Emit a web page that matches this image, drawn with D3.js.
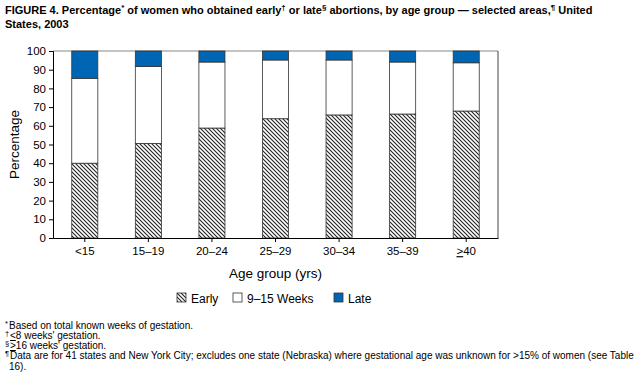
<!DOCTYPE html>
<html><head><meta charset="utf-8">
<script src="https://cdn.jsdelivr.net/npm/d3@7"></script>
<style>body{margin:0;background:#fff}svg{display:block;font-family:"Liberation Sans",Arial,sans-serif}</style>
</head><body>
<script>
const categories = ["<15","15–19","20–24","25–29","30–34","35–39","≥40"];
const early = [40, 50.6, 58.8, 63.8, 65.8, 66.3, 67.9];
const mid = [45.4, 41.2, 35.3, 31.4, 29.4, 27.8, 25.8];
const late = [14.6, 8.2, 5.9, 4.8, 4.8, 5.9, 6.3];
const yTicks = [0,10,20,30,40,50,60,70,80,90,100];
const seriesNames = ["Early","9–15 Weeks","Late"];

const W=640,H=381;
const svg=d3.select("body").append("svg").attr("width",W).attr("height",H);
const defs=svg.append("defs");
const pat=defs.append("pattern").attr("id","hatch").attr("patternUnits","userSpaceOnUse").attr("width",4).attr("height",4);
pat.append("rect").attr("width",4).attr("height",4).attr("fill","#fff");
pat.append("path").attr("d","M-1,-1 L5,5 M-1,3 L1,5 M3,-1 L5,1").attr("stroke","#222").attr("stroke-width",1.1);

const m={l:53,r:498,t:51,b:238};
const x=d3.scaleBand().domain(categories).range([m.l,m.r]).paddingInner(0.59).paddingOuter(0.295);
const y=d3.scaleLinear().domain([0,100]).range([m.b,m.t]);

// title
const title=svg.append("text").attr("x",5).attr("y",14).attr("font-weight","bold").attr("font-size",11).attr("fill","#000");
const parts=[["FIGURE 4. Percentage",0],["*",1],[" of women who obtained early",0],["†",1],[" or late",0],["§",1],[" abortions, by age group — selected areas,",0],["¶",1],[" United",0]];
parts.forEach(p=>{
  if(p[1]) title.append("tspan").attr("font-size",8).attr("baseline-shift","super").text(p[0]);
  else title.append("tspan").text(p[0]);
});
svg.append("text").attr("font-weight","bold").attr("font-size",11).attr("x",5).attr("y",28).text("States, 2003");

// frame
svg.append("line").attr("x1",m.l).attr("x2",m.r).attr("y1",m.t).attr("y2",m.t).attr("stroke","#888").attr("stroke-width",1);
svg.append("line").attr("x1",m.r).attr("x2",m.r).attr("y1",m.t).attr("y2",m.b).attr("stroke","#444").attr("stroke-width",1);

const data=categories.map((c,i)=>({c,vals:[early[i],mid[i],late[i]]}));
const fills=["url(#hatch)","#fff","#0066b3"];
data.forEach(d=>{
  let acc=0;
  d.vals.forEach((v,k)=>{
    svg.append("rect").attr("x",x(d.c)).attr("width",x.bandwidth())
      .attr("y",y(acc+v)).attr("height",y(acc)-y(acc+v))
      .attr("fill",fills[k]).attr("stroke","#333").attr("stroke-width",0.8);
    acc+=v;
  });
});

// axes
const ya=svg.append("g").attr("transform",`translate(${m.l},0)`).call(d3.axisLeft(y).tickValues(yTicks).tickSize(4).tickPadding(3));
ya.selectAll("text").attr("font-size",11.5).attr("fill","#000").attr("font-family","Liberation Sans,Arial,sans-serif");
ya.select(".domain").attr("stroke","#000");
ya.selectAll(".tick line").attr("stroke","#000");
const xa=svg.append("g").attr("transform",`translate(0,${m.b})`).call(d3.axisBottom(x).tickSize(4).tickPadding(5).tickSizeOuter(0));
xa.select(".domain").attr("stroke","#000");
xa.selectAll(".tick line").attr("stroke","#000");
xa.selectAll("text").attr("font-size",11.5).attr("fill","#000").attr("font-family","Liberation Sans,Arial,sans-serif")
  .each(function(d){ if(d==="≥40"){ const t=d3.select(this); t.text(""); t.append("tspan").attr("text-decoration","underline").text(">"); t.append("tspan").text("40"); }});

svg.append("text").attr("transform",`translate(19,${(m.t+m.b)/2}) rotate(-90)`).attr("text-anchor","middle").attr("font-size",13.5).text("Percentage");
svg.append("text").attr("x",(m.l+m.r)/2).attr("y",278).attr("text-anchor","middle").attr("font-size",13.5).text("Age group (yrs)");

// legend
const legX=[177,233,334];
seriesNames.forEach((n,k)=>{
  svg.append("rect").attr("x",legX[k]).attr("y",293).attr("width",9).attr("height",9).attr("fill",fills[k]).attr("stroke","#333").attr("stroke-width",0.8);
  svg.append("text").attr("x",legX[k]+14).attr("y",303).attr("font-size",12).text(n);
});

// footnotes
const fn=svg.append("g").attr("font-size",10).attr("fill","#000");
const notes=[
 ["*","Based on total known weeks of gestation."],
 ["†","<8 weeks' gestation."],
 ["§",">16 weeks' gestation."],
 ["¶","Data are for 41 states and New York City; excludes one state (Nebraska) where gestational age was unknown for >15% of women (see Table"],
 ["","16)."]
];
const fy=[329,339,349,359,370];
notes.forEach((n,i)=>{
  if(n[0]) fn.append("text").attr("x",5).attr("y",fy[i]-3).attr("font-size",7.5).text(n[0]);
  const t=fn.append("text").attr("x",i===4?9:(i===0?9:10)).attr("y",fy[i]);
  if(i===1||i===2){
    t.append("tspan").attr("text-decoration","underline").text(n[1][0]);
    t.append("tspan").text(n[1].slice(1));
  } else {
    t.text(n[1]);
  }
});
</script>
</body></html>
